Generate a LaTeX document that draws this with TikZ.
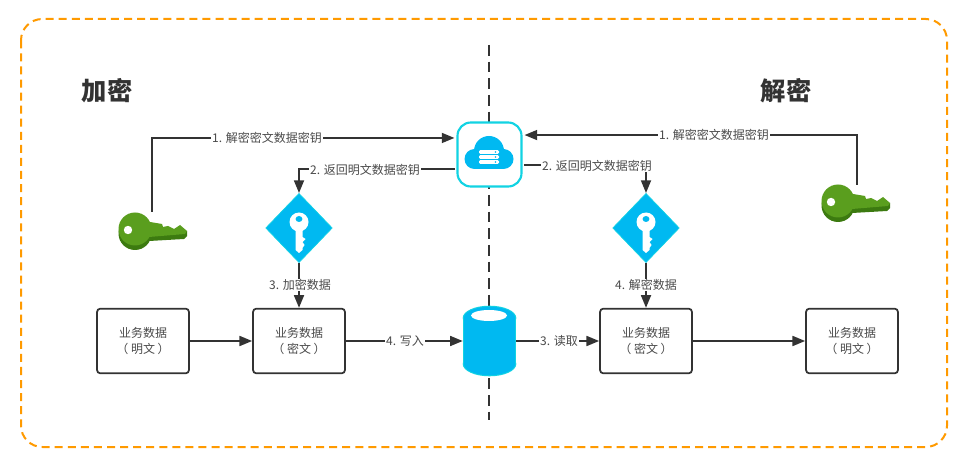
\documentclass[tikz,border=0pt]{standalone}
\usepackage{fontspec}
\setmainfont{Noto Sans CJK SC}
\usetikzlibrary{arrows.meta,shapes.geometric,calc}
\definecolor{ink}{HTML}{333333}
\definecolor{txt}{HTML}{4A4A4A}
\definecolor{frameor}{HTML}{FF9A00}
\definecolor{sky}{HTML}{00B9F1}
\definecolor{aqua}{HTML}{12D3E3}
\definecolor{keyg}{HTML}{5A9E1E}
\definecolor{keyd}{HTML}{3C7A10}
\tikzset{
  x=0.75pt,y=-0.75pt,
  conn/.style={draw=ink,line width=1.3pt},
  arr/.style={conn,-{Triangle[length=9.5pt,width=7.5pt]}},
  lbl/.style={fill=white,text=txt,font=\fontsize{9pt}{11pt}\selectfont,inner sep=0.6pt},
  boxn/.style={draw=ink,line width=1.3pt,rounded corners=2.5pt,fill=white,minimum width=69pt,minimum height=48.5pt,inner sep=0pt,align=center,text=txt,font=\fontsize{9pt}{12pt}\selectfont},
  title/.style={text=ink,font=\fontsize{19pt}{22pt}\selectfont\bfseries},
  keydia/.style={diamond,aspect=1,fill=sky,draw=aqua,line width=.5pt,minimum width=50pt,minimum height=52pt,inner sep=0pt},
  pics/greenkey/.style={code={
    \def\keypath{(15,-7) -- (27,-5) -- (28,-2) -- (33,-3) -- (39,0) -- (45,-4) -- (52,2) -- (50,5) -- (14,8) -- cycle}
    \fill[keyd] (0,4.5) circle [radius=16.5];
    \fill[keyd] (15,-3) -- (52,2) -- (52,7) -- (49,10) -- (14,12) -- cycle;
    \fill[keyg] (0,0) circle [radius=16.5];
    \fill[keyg] \keypath;
    \fill[white] (-7,1) circle [radius=4.2];
  }},
  pics/bluekey/.style={code={
    \fill[white] (0,-6) circle [radius=9.5];
    \fill[white] (-3.5,0) -- (3.5,0) -- (3.5,9) -- (6.5,11) -- (3.5,14) -- (5.5,17) -- (3.5,20) -- (3.5,22) -- (0,25) -- (-3.5,22) -- cycle;
    \fill[sky] (0,-9) ellipse [x radius=3.4,y radius=3];
  }},
  pics/cloudicon/.style={code={
    \fill[sky] (0,-1) circle [radius=15];
    \fill[sky] (-14.5,7) circle [radius=10];
    \fill[sky] (14.5,7) circle [radius=10];
    \fill[sky] (-14.5,0) rectangle (14.5,17);
    \foreach \yy in {0,5,10}{
      \fill[white,rounded corners=1pt] (-10,\yy-1.9) rectangle (10,\yy+1.9);
      \fill[sky] (6.5,\yy) circle [radius=.9];
    }
  }}
}
\begin{document}
\begin{tikzpicture}
\useasboundingbox (0,0) rectangle (970,466);
\fill[white] (0,0) rectangle (970,466);
\draw[frameor,line width=1.5pt,dash pattern=on 6pt off 3.8pt,rounded corners=16pt] (21,19) rectangle (947,447);

\coordinate (axisTop) at (489,45);
\coordinate (axisEnd) at (489,420);
\draw[ink,line width=1.5pt,dash pattern=on 8pt off 4.5pt] (axisTop) -- (axisEnd);

\node[title] (tEnc) at (107,91) {加密};
\node[title] (tDec) at (786,91) {解密};

\node[draw=aqua,line width=1.6pt,fill=white,rounded corners=10pt,minimum width=48pt,minimum height=48pt,inner sep=0pt] (cloud) at (489.5,154.5) {};
\pic at (489,152) {cloudicon};

\pic at (135,229) {greenkey};
\pic at (838,201) {greenkey};
\coordinate (keyL) at (152,212);
\coordinate (keyR) at (857,185);

\node[keydia] (diaL) at (299,228) {};
\node[keydia] (diaR) at (646,228) {};
\pic at (299,228) {bluekey};
\pic at (646,228) {bluekey};

\node[boxn] (b1) at (143,341) {业务数据\\（ 明文 ）};
\node[boxn] (b2) at (299,341) {业务数据\\（ 密文 ）};
\node[boxn] (b3) at (646,341) {业务数据\\（ 密文 ）};
\node[boxn] (b4) at (852,341) {业务数据\\（ 明文 ）};

% storage cylinder
\node[minimum width=39.75pt,minimum height=52.5pt,inner sep=0pt] (db) at (489.5,341) {};
\foreach \cc/\rx/\ry/\hw in {aqua/26.8/12.3/26.8,sky/25.6/11.2/25.6}{
  \fill[\cc] (489.5,318) ellipse [x radius=\rx,y radius=\ry];
  \fill[\cc] (489.5,364) ellipse [x radius=\rx,y radius=\ry];
  \fill[\cc] (489.5-\hw,318) rectangle (489.5+\hw,364);
}
\fill[white] (489,315.5) ellipse [x radius=18,y radius=5.5];

\draw[arr] (keyL) |- ([yshift=12.4pt,xshift=-1.5pt]cloud.west);
\draw[arr] (keyR) |- ([yshift=14.6pt,xshift=1.5pt]cloud.east);
\draw[arr] ([yshift=-10.9pt,xshift=-1pt]cloud.west) -| (diaL.north);
\draw[arr] ([yshift=-7.9pt,xshift=1pt]cloud.east) -| (diaR.north);
\draw[arr] (diaL.south) -- (b2.north);
\draw[arr] (diaR.south) -- (b3.north);
\draw[arr] (b1.east) -- (b2.west);
\draw[arr] (b2.east) -- (db.west);
\draw[arr] (db.east) -- (b3.west);
\draw[arr] (b3.east) -- (b4.west);

\node[lbl] (l1) at (267,138) {1. 解密密文数据密钥};
\node[lbl] (l2) at (714,135) {1. 解密密文数据密钥};
\node[lbl] (l3) at (365,170) {2. 返回明文数据密钥};
\node[lbl] (l4) at (597,166) {2. 返回明文数据密钥};
\node[lbl] (l5) at (300,285) {3. 加密数据};
\node[lbl] (l6) at (646,285) {4. 解密数据};
\node[lbl] (l7) at (405,341) {4. 写入};
\node[lbl] (l8) at (559,341) {3. 读取};
\end{tikzpicture}
\end{document}
